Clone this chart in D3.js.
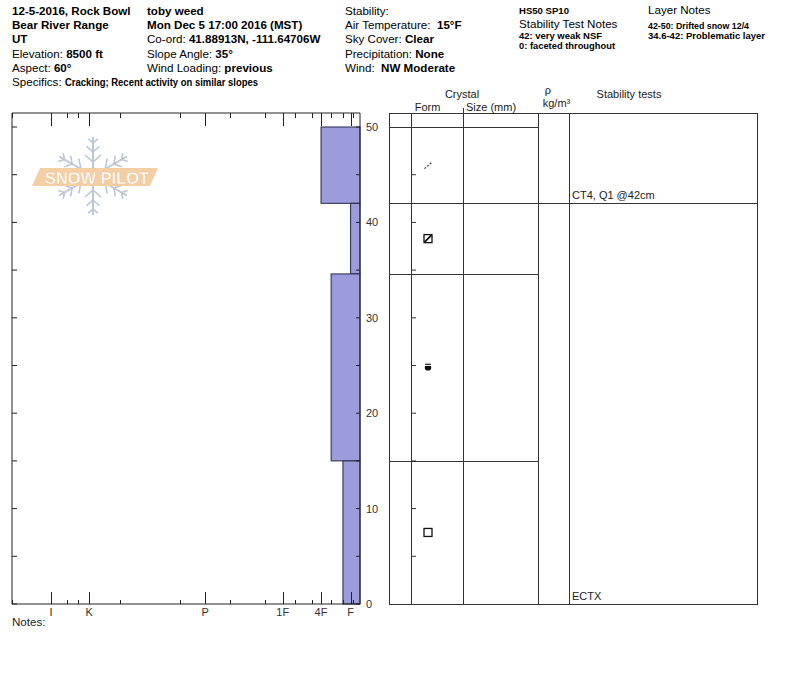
<!DOCTYPE html>
<html>
<head>
<meta charset="utf-8">
<script src="https://cdn.jsdelivr.net/npm/d3@7"></script>
<style>
  html, body { margin: 0; padding: 0; background: #fff; }
  svg { display: block; font-family: "Liberation Sans", Arial, sans-serif; }
</style>
</head>
<body>
<svg id="chart" width="800" height="676"></svg>
<script>
// ---------------- DATA ----------------
const headerCol1 = [
  [{t: "12-5-2016, Rock Bowl", b: true}],
  [{t: "Bear River Range", b: true}],
  [{t: "UT", b: true}],
  [{t: "Elevation: ", b: false}, {t: "8500 ft", b: true}],
  [{t: "Aspect: ", b: false}, {t: "60°", b: true}]
];
const headerCol2 = [
  [{t: "toby weed", b: true}],
  [{t: "Mon Dec 5 17:00 2016 (MST)", b: true}],
  [{t: "Co-ord: ", b: false}, {t: "41.88913N, -111.64706W", b: true}],
  [{t: "Slope Angle: ", b: false}, {t: "35°", b: true}],
  [{t: "Wind Loading: ", b: false}, {t: "previous", b: true}]
];
const headerCol3 = [
  [{t: "Stability:", b: false}],
  [{t: "Air Temperature:\u00a0 ", b: false}, {t: "15°F", b: true}],
  [{t: "Sky Cover: ", b: false}, {t: "Clear", b: true}],
  [{t: "Precipitation: ", b: false}, {t: "None", b: true}],
  [{t: "Wind:\u00a0 ", b: false}, {t: "NW Moderate", b: true}]
];
const specificsLabel = "Specifics:";
const specificsText = "Cracking; Recent activity on similar slopes";
const snowSummary = "HS50 SP10";
const stabilityNotesTitle = "Stability Test Notes";
const stabilityNotes = ["42: very weak NSF", "0: faceted throughout"];
const layerNotesTitle = "Layer Notes";
const layerNotes = ["42-50: Drifted snow 12/4", "34.6-42: Problematic layer"];

// hardness scale (relative resistance units, 0 = none, 100 = full axis)
const hardnessCodes  = ["F-", "F", "F+", "4F-", "4F", "4F+", "1F-", "1F", "1F+", "P-", "P", "P+", "K-", "K", "K+", "I-", "I", "I+"];
const hardnessValues = [1.9, 2.7, 4.9, 8.3, 11.2, 13.9, 18.7, 22.2, 27.3, 37.4, 44.5, 51.7, 69.0, 77.8, 81.0, 84.2, 88.8, 100];
const hardnessLabels = ["I", "K", "P", "1F", "4F", "F"];

// layers
const layerTop      = [50, 42, 34.6, 15];
const layerBottom   = [42, 34.6, 15, 0];
const layerHardness = ["4F", "F", "4F-", "F+"];
const layerGrain    = ["DF", "FCxr", "MFcr", "FC"];

// stability tests
const testDepths = [42, 0];
const testTexts  = ["CT4, Q1 @42cm", "ECTX"];

const depthTicks = [0, 5, 10, 15, 20, 25, 30, 35, 40, 45, 50];
const depthLabels = [0, 10, 20, 30, 40, 50];

// ---------------- DRAW ----------------
const svg = d3.select("#chart");
const hardVal = c => hardnessValues[hardnessCodes.indexOf(c)];

const y = d3.scaleLinear().domain([0, 50]).range([604, 127]);
const yTop = y.invert(113);
const x = d3.scaleLinear().domain([0, 100]).range([360, 12]);

// header text
const lineH = 14.35, base0 = 14.5;
function headerCol(rows, x0) {
  rows.forEach((row, i) => {
    const t = svg.append("text").attr("x", x0).attr("y", base0 + i * lineH)
      .attr("font-size", 11.6).attr("fill", "#000");
    row.forEach(p => t.append("tspan").attr("font-weight", p.b ? "bold" : "normal").text(p.t));
  });
}
headerCol(headerCol1, 12);
headerCol(headerCol2, 147);
headerCol(headerCol3, 345);

svg.append("text").attr("x", 12).attr("y", base0 + 5 * lineH).attr("font-size", 11.6).text(specificsLabel);
svg.append("text").attr("x", 65).attr("y", base0 + 5 * lineH - 0.5).attr("font-size", 10)
  .attr("font-weight", "bold").attr("textLength", 193).attr("lengthAdjust", "spacingAndGlyphs").text(specificsText);

function smallBold(txt, x0, yy, w) {
  svg.append("text").attr("x", x0).attr("y", yy).attr("font-size", 9.6).attr("font-weight", "bold")
    .attr("textLength", w).attr("lengthAdjust", "spacingAndGlyphs").text(txt);
}
smallBold(snowSummary, 519, 13.8, 50);
svg.append("text").attr("x", 519).attr("y", 28).attr("font-size", 11.6).text(stabilityNotesTitle);
smallBold(stabilityNotes[0], 519, 38.6, 83);
smallBold(stabilityNotes[1], 519, 49.2, 96);
svg.append("text").attr("x", 648).attr("y", 14).attr("font-size", 11.6).text(layerNotesTitle);
smallBold(layerNotes[0], 648, 28.6, 101);
smallBold(layerNotes[1], 648, 38.6, 117);

// ---- logo (watermark) ----
const logo = svg.append("g").attr("transform", "translate(93,176)");
const flakeCol = "#bcc7d2";
[0, 60, 120].forEach(a => {
  const g = logo.append("g").attr("transform", `rotate(${a})`);
  g.append("line").attr("x1", 0).attr("y1", -39).attr("x2", 0).attr("y2", 39)
    .attr("stroke", flakeCol).attr("stroke-width", 2);
  [-1, 1].forEach(s => {
    [14, 24, 33].forEach((d, k) => {
      const len = [10, 8, 6][k];
      g.append("line").attr("x1", 0).attr("y1", s * d).attr("x2", -len * 0.8).attr("y2", s * (d + len * 0.7))
        .attr("stroke", flakeCol).attr("stroke-width", 1.6);
      g.append("line").attr("x1", 0).attr("y1", s * d).attr("x2", len * 0.8).attr("y2", s * (d + len * 0.7))
        .attr("stroke", flakeCol).attr("stroke-width", 1.6);
    });
  });
});
logo.append("polygon").attr("points", "-53,-8 65,-8 57,10 -61,10").attr("fill", "#f3cfa6");
logo.append("text").attr("x", -48).attr("y", 7.5).attr("font-size", 17)
  .attr("font-weight", "bold").attr("fill", "#fff").attr("stroke", "#e9b988").attr("stroke-width", 0.4)
  .attr("textLength", 104).attr("lengthAdjust", "spacingAndGlyphs").text("SNOW PILOT");

// ---- hardness profile ----
const layers = layerTop.map((t, i) => ({top: t, bottom: layerBottom[i], h: layerHardness[i], g: layerGrain[i]}));
svg.append("g").selectAll("rect").data(layers).join("rect")
  .attr("x", d => x(hardVal(d.h)))
  .attr("y", d => y(d.top))
  .attr("width", d => x(0) - x(hardVal(d.h)))
  .attr("height", d => y(d.bottom) - y(d.top))
  .attr("fill", "#9c9cdc").attr("stroke", "#26264a").attr("stroke-width", 1);

const axCol = "#222";
// frame lines (left, top, bottom, right)
svg.append("line").attr("x1", x(100)).attr("x2", x(100)).attr("y1", y(yTop)).attr("y2", y(0)).attr("stroke", axCol);
svg.append("line").attr("x1", x(100)).attr("x2", x(0)).attr("y1", y(yTop)).attr("y2", y(yTop)).attr("stroke", axCol);
svg.append("line").attr("x1", x(100)).attr("x2", x(0)).attr("y1", y(0)).attr("y2", y(0)).attr("stroke", axCol);
svg.append("line").attr("x1", x(0)).attr("x2", x(0)).attr("y1", y(yTop)).attr("y2", y(0)).attr("stroke", axCol);

// hardness ticks top & bottom
const hTicks = hardnessCodes.map((c, i) => ({c, v: hardnessValues[i], major: hardnessLabels.includes(c)}));
svg.append("g").selectAll("line").data(hTicks).join("line")
  .attr("x1", d => Math.round(x(d.v)) + 0.5).attr("x2", d => Math.round(x(d.v)) + 0.5)
  .attr("y1", y(0)).attr("y2", d => y(0) - (d.major ? 12 : 4)).attr("stroke", axCol);
svg.append("g").selectAll("line").data(hTicks).join("line")
  .attr("x1", d => Math.round(x(d.v)) + 0.5).attr("x2", d => Math.round(x(d.v)) + 0.5)
  .attr("y1", y(yTop)).attr("y2", d => y(yTop) + (d.major ? 13 : 5)).attr("stroke", axCol);
svg.append("g").selectAll("text").data(hTicks.filter(d => d.major)).join("text")
  .attr("x", d => x(d.v)).attr("y", 616).attr("text-anchor", "middle")
  .attr("font-size", 11).attr("fill", "#333").text(d => d.c);

// depth ticks: left axis (inward), right axis (inward), form column
svg.append("g").selectAll("line").data(depthTicks).join("line")
  .attr("x1", x(100)).attr("x2", x(100) + 5).attr("y1", d => y(d)).attr("y2", d => y(d)).attr("stroke", axCol);
svg.append("g").selectAll("line").data(depthTicks).join("line")
  .attr("x1", x(0)).attr("x2", x(0) - 4).attr("y1", d => y(d)).attr("y2", d => y(d)).attr("stroke", axCol);
svg.append("g").selectAll("text").data(depthLabels).join("text")
  .attr("x", 366).attr("y", d => y(d) + 4).attr("font-size", 11).attr("fill", "#333").text(d => d);

svg.append("text").attr("x", 12).attr("y", 626).attr("font-size", 11.6).attr("fill", "#222").text("Notes:");

// ---- right table ----
const tCol = "#333";
const colX = [389, 411, 463, 538, 569, 757];
const tbl = svg.append("g").attr("stroke", tCol).attr("stroke-width", 1);
colX.forEach((cx, i) => {
  tbl.append("line").attr("x1", cx + 0.5).attr("x2", cx + 0.5)
    .attr("y1", i === 2 ? 108 : y(yTop)).attr("y2", y(0));
});
tbl.append("line").attr("x1", colX[0]).attr("x2", colX[5] + 1).attr("y1", y(yTop) + 0.5).attr("y2", y(yTop) + 0.5);
tbl.append("line").attr("x1", colX[0]).attr("x2", colX[5] + 1).attr("y1", y(0) + 0.5).attr("y2", y(0) + 0.5);
tbl.append("line").attr("x1", colX[0]).attr("x2", colX[3]).attr("y1", Math.round(y(50)) + 0.5).attr("y2", Math.round(y(50)) + 0.5);
layerBottom.filter(d => d > 0).forEach(d => {
  tbl.append("line").attr("x1", colX[0]).attr("x2", colX[3]).attr("y1", Math.round(y(d)) + 0.5).attr("y2", Math.round(y(d)) + 0.5);
});
testDepths.filter(d => d > 0).forEach(d => {
  tbl.append("line").attr("x1", colX[3]).attr("x2", colX[5] + 1).attr("y1", Math.round(y(d)) + 0.5).attr("y2", Math.round(y(d)) + 0.5);
});
// ticks on form column line
svg.append("g").selectAll("line").data(depthTicks.filter(d => d > 0 && d < 50)).join("line")
  .attr("x1", colX[1]).attr("x2", colX[1] + 5).attr("y1", d => y(d)).attr("y2", d => y(d)).attr("stroke", tCol);

// column headers
const hdr = svg.append("g").attr("font-size", 11).attr("fill", "#222");
hdr.append("text").attr("x", 462).attr("y", 97.5).attr("text-anchor", "middle").text("Crystal");
hdr.append("text").attr("x", 427.5).attr("y", 110.5).attr("text-anchor", "middle").text("Form");
hdr.append("text").attr("x", 491).attr("y", 110.5).attr("text-anchor", "middle").text("Size (mm)");
hdr.append("text").attr("x", 548).attr("y", 94).attr("text-anchor", "middle").text("ρ");
hdr.append("text").attr("x", 556.5).attr("y", 107).attr("text-anchor", "middle").text("kg/m³");
hdr.append("text").attr("x", 629).attr("y", 98).attr("text-anchor", "middle").text("Stability tests");

// grain form symbols
const symX = 428;
const sym = svg.append("g");
layers.forEach(d => {
  const cy = y((d.top + d.bottom) / 2);
  const g = sym.append("g").attr("transform", `translate(${symX},${cy})`);
  if (d.g === "DF") {
    g.append("line").attr("x1", -3.5).attr("y1", 3.5).attr("x2", 4).attr("y2", -3)
      .attr("stroke", "#333").attr("stroke-width", 1.2).attr("stroke-dasharray", "2,1.5");
  } else if (d.g === "FCxr") {
    g.append("rect").attr("x", -4).attr("y", -4).attr("width", 8).attr("height", 8)
      .attr("fill", "none").attr("stroke", "#111").attr("stroke-width", 1.3);
    g.append("line").attr("x1", -3.5).attr("y1", 3.5).attr("x2", 3.5).attr("y2", -3.5)
      .attr("stroke", "#111").attr("stroke-width", 1.8);
  } else if (d.g === "MFcr") {
    g.append("circle").attr("r", 3.2).attr("fill", "#111");
    g.append("line").attr("x1", -3.5).attr("x2", 3.5).attr("y1", -2).attr("y2", -2)
      .attr("stroke", "#fff").attr("stroke-width", 1);
    g.append("line").attr("x1", -3).attr("x2", 3).attr("y1", -3.2).attr("y2", -3.2)
      .attr("stroke", "#111").attr("stroke-width", 1);
  } else if (d.g === "FC") {
    g.append("rect").attr("x", -4).attr("y", -4).attr("width", 8).attr("height", 8)
      .attr("fill", "none").attr("stroke", "#111").attr("stroke-width", 1.3);
  }
});

// stability tests text
svg.append("g").selectAll("text").data(testDepths.map((d, i) => ({d, t: testTexts[i]}))).join("text")
  .attr("x", 572).attr("y", d => y(d.d) - 4).attr("font-size", 11).attr("fill", "#222").text(d => d.t);
</script>
</body>
</html>
